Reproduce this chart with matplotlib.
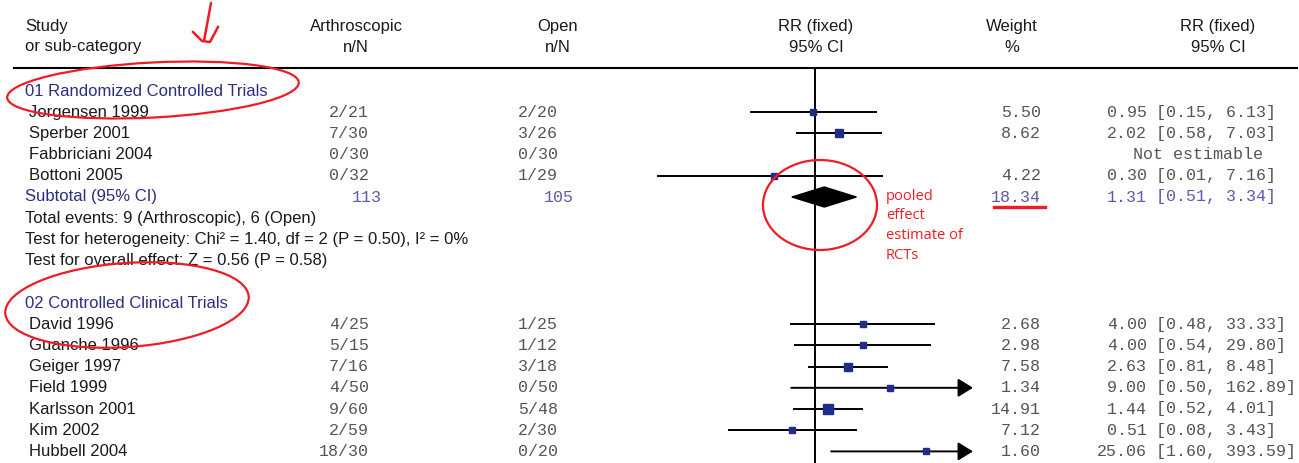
import numpy as np
import matplotlib
matplotlib.use("Agg")
import matplotlib.pyplot as plt
from matplotlib.patches import Ellipse, Polygon

"""
Forest plot: arthroscopic vs open, RR (fixed)
"""

# 01 Randomized Controlled Trials
rct_studies = ["Jorgensen 1999", "Sperber 2001", "Fabbriciani 2004", "Bottoni 2005"]
rct_arth_n = [2, 7, 0, 0]
rct_arth_N = [21, 30, 30, 32]
rct_open_n = [2, 3, 0, 1]
rct_open_N = [20, 26, 30, 29]
rct_weight = [5.50, 8.62, np.nan, 4.22]
rct_rr = [0.95, 2.02, np.nan, 0.30]
rct_lo = [0.15, 0.58, np.nan, 0.01]
rct_hi = [6.13, 7.03, np.nan, 7.16]

rct_sub_N = [113, 105]
rct_sub_weight = 18.34
rct_sub_rr = [1.31, 0.51, 3.34]
rct_notes = ["Total events: 9 (Arthroscopic), 6 (Open)",
             "Test for heterogeneity: Chi\u00b2 = 1.40, df = 2 (P = 0.50), I\u00b2 = 0%",
             "Test for overall effect: Z = 0.56 (P = 0.58)"]

# 02 Controlled Clinical Trials
cct_studies = ["David 1996", "Guanche 1996", "Geiger 1997", "Field 1999",
               "Karlsson 2001", "Kim 2002", "Hubbell 2004"]
cct_arth_n = [4, 5, 7, 4, 9, 2, 18]
cct_arth_N = [25, 15, 16, 50, 60, 59, 30]
cct_open_n = [1, 1, 3, 0, 5, 2, 0]
cct_open_N = [25, 12, 18, 50, 48, 30, 20]
cct_weight = [2.68, 2.98, 7.58, 1.34, 14.91, 7.12, 1.60]
cct_rr = [4.00, 4.00, 2.63, 9.00, 1.44, 0.51, 25.06]
cct_lo = [0.48, 0.54, 0.81, 0.50, 0.52, 0.08, 1.60]
cct_hi = [33.33, 29.80, 8.48, 162.89, 4.01, 3.43, 393.59]

header_1 = ["Study", "Arthroscopic", "Open", "RR (fixed)", "Weight", "RR (fixed)"]
header_2 = ["or sub-category", "n/N", "n/N", "95% CI", "%", "95% CI"]

W, H = 1299, 463
ROW0 = 91
ROW_H = 21.2

X_STUDY = 25
X_ARTH = 369
X_OPEN = 558
X_WEIGHT = 1041
X_EST = 1147
X_CI = 1156

BLACK = "#1a1a1a"
GREY = "#555555"
NAVY = "#2d2d82"
LIGHT_NAVY = "#5a5aa8"
BOX = "#1f2d86"
RED = "#ee1c25"

SANS = "Liberation Sans"
MONO = "Liberation Mono"
FS = 12


def row_y(i):
  return ROW0 + i * ROW_H


def draw_study(ax, fax, y, name, an, aN, on, oN, w, rr, lo, hi):
  ax.text(X_STUDY + 4, y, name, family=SANS, fontsize=FS, color=BLACK, va="center", ha="left")
  ax.text(X_ARTH, y, "%d/%d" % (an, aN), family=MONO, fontsize=FS, color=GREY, va="center", ha="right")
  ax.text(X_OPEN, y, "%d/%d" % (on, oN), family=MONO, fontsize=FS, color=GREY, va="center", ha="right")
  if np.isnan(rr):
    ax.text(1198, y, "Not estimable", family=MONO, fontsize=FS, color=GREY, va="center", ha="center")
    return
  ax.text(X_WEIGHT, y, "%.2f" % w, family=MONO, fontsize=FS, color=GREY, va="center", ha="right")
  ax.text(X_EST, y, "%.2f" % rr, family=MONO, fontsize=FS, color=GREY, va="center", ha="right")
  ax.text(X_CI, y, "[%.2f, %.2f]" % (lo, hi), family=MONO, fontsize=FS, color=GREY, va="center", ha="left")

  if hi > 100:
    fax.annotate("", xy=(100, y), xytext=(lo, y),
                 arrowprops=dict(arrowstyle="-|>,head_length=0.65,head_width=0.4", color="k",
                                 lw=1.4, mutation_scale=14, shrinkA=0, shrinkB=0))
  else:
    fax.plot([lo, hi], [y, y], color="k", lw=1.4, solid_capstyle="butt")
  size_px = 5.0 + 0.27 * w
  fax.plot([rr], [y], "s", ms=size_px * 0.72, color=BOX, mec=BOX, zorder=5)


fig = plt.figure(figsize=(W / 100, H / 100), dpi=100)
ax = fig.add_axes([0, 0, 1, 1])
ax.set_xlim(0, W)
ax.set_ylim(H, 0)
ax.axis("off")

# forest panel: 0.01 at 657 px, 100 at 973 px
fax = fig.add_axes([657 / W, 0, 316 / W, 1])
fax.set_xscale("log")
fax.set_xlim(0.01, 100)
fax.set_ylim(H, 0)
fax.axis("off")

# header
header_x = [X_STUDY, 356, 558, 816, 1012, 1218]
for k in range(len(header_1)):
  ha = "left" if k == 0 else "center"
  ax.text(header_x[k], 27, header_1[k], family=SANS, fontsize=FS, color=BLACK, va="center", ha=ha)
  ax.text(header_x[k], 47, header_2[k], family=SANS, fontsize=FS, color=BLACK, va="center", ha=ha)
ax.plot([14, 1297], [68, 68], color="k", lw=1.5)
fax.plot([1, 1], [68, H], color="k", lw=1.4)

# group 1
ax.text(X_STUDY, row_y(0), "01 Randomized Controlled Trials", family=SANS, fontsize=FS, color=NAVY, va="center")
for i in range(len(rct_studies)):
  draw_study(ax, fax, row_y(1 + i), rct_studies[i], rct_arth_n[i], rct_arth_N[i],
             rct_open_n[i], rct_open_N[i], rct_weight[i], rct_rr[i], rct_lo[i], rct_hi[i])

ys = row_y(5)
ax.text(X_STUDY, ys, "Subtotal (95% CI)", family=SANS, fontsize=FS, color=NAVY, va="center")
ax.text(X_ARTH + 13, ys, "%d" % rct_sub_N[0], family=MONO, fontsize=FS, color=LIGHT_NAVY, va="center", ha="right")
ax.text(X_OPEN + 16, ys, "%d" % rct_sub_N[1], family=MONO, fontsize=FS, color=LIGHT_NAVY, va="center", ha="right")
ax.text(X_WEIGHT, ys, "%.2f" % rct_sub_weight, family=MONO, fontsize=FS, color=LIGHT_NAVY, va="center", ha="right")
ax.text(X_EST, ys, "%.2f" % rct_sub_rr[0], family=MONO, fontsize=FS, color=LIGHT_NAVY, va="center", ha="right")
ax.text(X_CI, ys, "[%.2f, %.2f]" % (rct_sub_rr[1], rct_sub_rr[2]), family=MONO, fontsize=FS,
        color=LIGHT_NAVY, va="center", ha="left")
est, lo, hi = rct_sub_rr
fax.add_patch(Polygon([(lo, ys), (est, ys - 10), (hi, ys), (est, ys + 10)], closed=True,
                      facecolor="k", edgecolor="k", zorder=4))

for j in range(len(rct_notes)):
  ax.text(X_STUDY, row_y(6 + j), rct_notes[j], family=SANS, fontsize=FS, color=BLACK, va="center")

# group 2
ax.text(X_STUDY, row_y(10), "02 Controlled Clinical Trials", family=SANS, fontsize=FS, color=NAVY, va="center")
for i in range(len(cct_studies)):
  draw_study(ax, fax, row_y(11 + i), cct_studies[i], cct_arth_n[i], cct_arth_N[i],
             cct_open_n[i], cct_open_N[i], cct_weight[i], cct_rr[i], cct_lo[i], cct_hi[i])

# red hand annotations on top
ann = fig.add_axes([0, 0, 1, 1])
ann.set_xlim(0, W)
ann.set_ylim(H, 0)
ann.axis("off")
ann.plot([211, 204], [3, 41], color=RED, lw=1.8, solid_capstyle="round")
ann.plot([193, 202, 210, 218], [32, 41, 42, 27], color=RED, lw=1.8, solid_joinstyle="round")
ann.add_patch(Ellipse((153, 90), 292, 55, angle=-3, fill=False, edgecolor=RED, lw=1.6))
ann.add_patch(Ellipse((127, 305), 244, 84, angle=-4, fill=False, edgecolor=RED, lw=1.6))
ann.add_patch(Ellipse((820, 205), 114, 90, angle=0, fill=False, edgecolor=RED, lw=1.6))
ann.plot([994, 1045], [207, 207], color=RED, lw=2.4)
pooled = ["pooled", "effect", "estimate of", "RCTs"]
for k in range(len(pooled)):
  ann.text(886, 196 + k * 19.7, pooled[k], family="Open Sans", fontsize=10.5, color=RED, va="center", ha="left")

plt.savefig("out.png", dpi=100)
